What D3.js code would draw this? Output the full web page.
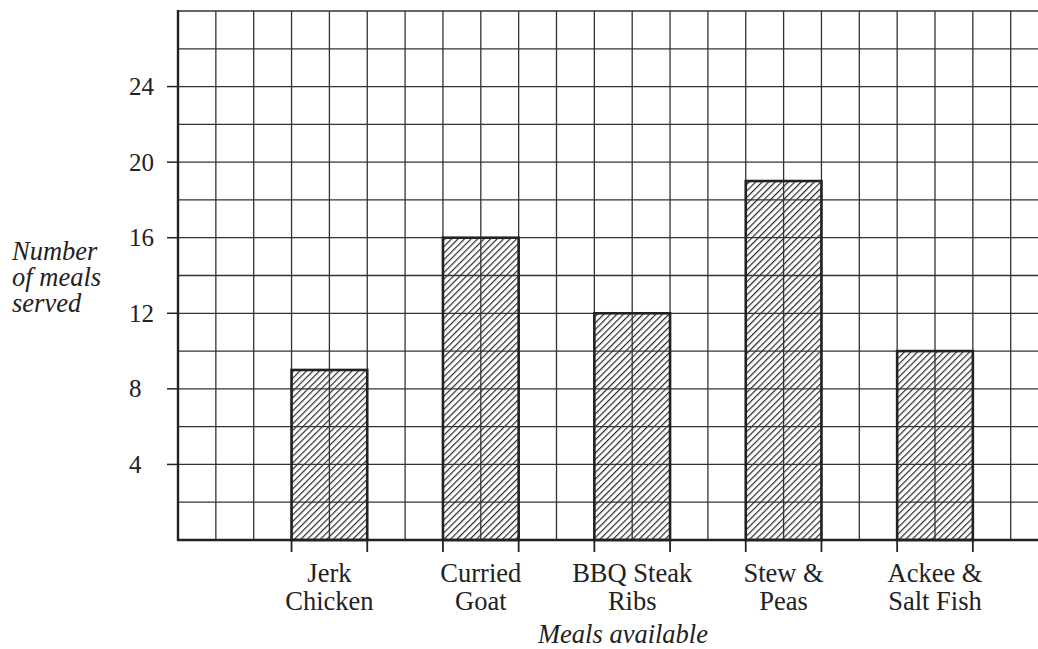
<!DOCTYPE html>
<html>
<head>
<meta charset="utf-8">
<script src="https://cdn.jsdelivr.net/npm/d3@7"></script>
<style>
  body { margin: 0; background: #fff; }
  svg { display: block; }
</style>
</head>
<body>
<script>

var width  = 1038;
var height = 649;

// data
var meals    = ['Jerk Chicken', 'Curried Goat', 'BBQ Steak Ribs', 'Stew & Peas', 'Ackee & Salt Fish'];
var mealRows = [['Jerk', 'Chicken'], ['Curried', 'Goat'], ['BBQ Steak', 'Ribs'], ['Stew &', 'Peas'], ['Ackee &', 'Salt Fish']];
var served   = [9, 16, 12, 19, 10];
var yTicks   = [4, 8, 12, 16, 20, 24];

var plotLeft = 178, plotTop = 11, plotBottom = 540;
var cell = 37.85;   // one grid square
var cols = 23;
var serif = '"Liberation Serif", "Times New Roman", serif';

var svg = d3.select('body')
            .append('svg')
            .attr('width', width)
            .attr('height', height);

var y = d3.scaleLinear()
          .domain([0, 28])
          .range([plotBottom, plotTop]);

var gx = d3.scaleLinear()
           .domain([0, cols])
           .range([plotLeft, plotLeft + cols * cell]);

var x = d3.scaleBand()
          .domain(meals)
          .range([gx(1), gx(23)])
          .paddingInner(0.5)
          .paddingOuter(0.5);

// hatch
var defs = svg.append('defs');
var pat = defs.append('pattern')
              .attr('id', 'hatch')
              .attr('patternUnits', 'userSpaceOnUse')
              .attr('width', 4.6)
              .attr('height', 4.6)
              .attr('patternTransform', 'rotate(45)');
pat.append('line')
   .attr('x1', 0).attr('y1', 0)
   .attr('x2', 0).attr('y2', 4.6)
   .attr('stroke', '#2a2a2a')
   .attr('stroke-width', 2.4);

// bars first so the grid shows through
svg.selectAll('rect.bar')
   .data(served)
   .enter()
   .append('rect')
   .attr('class', 'bar')
   .attr('x', function(d, i){ return x(meals[i]); })
   .attr('y', function(d){ return y(d); })
   .attr('width', x.bandwidth())
   .attr('height', function(d){ return y(0) - y(d); })
   .attr('fill', 'url(#hatch)');

// grid
svg.selectAll('line.h')
   .data(d3.range(2, 29, 2))
   .enter()
   .append('line')
   .attr('x1', plotLeft).attr('x2', width)
   .attr('y1', function(d){ return y(d); })
   .attr('y2', function(d){ return y(d); })
   .attr('stroke', '#333')
   .attr('stroke-width', 1.3);

svg.selectAll('line.v')
   .data(d3.range(1, cols + 1))
   .enter()
   .append('line')
   .attr('x1', function(d){ return gx(d); })
   .attr('x2', function(d){ return gx(d); })
   .attr('y1', plotTop).attr('y2', plotBottom)
   .attr('stroke', '#333')
   .attr('stroke-width', 1.3);

// bar outlines
svg.selectAll('rect.outline')
   .data(served)
   .enter()
   .append('rect')
   .attr('x', function(d, i){ return x(meals[i]); })
   .attr('y', function(d){ return y(d); })
   .attr('width', x.bandwidth())
   .attr('height', function(d){ return y(0) - y(d); })
   .attr('fill', 'none')
   .attr('stroke', '#222')
   .attr('stroke-width', 2.6);

// axes
svg.append('line')
   .attr('x1', plotLeft).attr('x2', plotLeft)
   .attr('y1', plotTop - 1).attr('y2', plotBottom + 1)
   .attr('stroke', '#222').attr('stroke-width', 2.4);
svg.append('line')
   .attr('x1', plotLeft - 1).attr('x2', width)
   .attr('y1', plotBottom).attr('y2', plotBottom)
   .attr('stroke', '#222').attr('stroke-width', 2.4);

// y ticks + labels
svg.selectAll('line.yt')
   .data(yTicks)
   .enter()
   .append('line')
   .attr('x1', plotLeft - 11).attr('x2', plotLeft)
   .attr('y1', function(d){ return y(d); })
   .attr('y2', function(d){ return y(d); })
   .attr('stroke', '#222').attr('stroke-width', 1.5);

svg.selectAll('text.yl')
   .data(yTicks)
   .enter()
   .append('text')
   .text(function(d){ return d; })
   .attr('x', 129)
   .attr('y', function(d){ return y(d) + 8.5; })
   .attr('font-family', serif)
   .attr('font-size', '25px')
   .attr('fill', '#222');

// x ticks at bar edges
var edges = [];
meals.forEach(function(m){ edges.push(x(m), x(m) + x.bandwidth()); });
svg.selectAll('line.xt')
   .data(edges)
   .enter()
   .append('line')
   .attr('x1', function(d){ return d; })
   .attr('x2', function(d){ return d; })
   .attr('y1', plotBottom).attr('y2', plotBottom + 12)
   .attr('stroke', '#222').attr('stroke-width', 1.8);

// category labels
var cat = svg.selectAll('text.xl')
             .data(mealRows)
             .enter()
             .append('text')
             .attr('text-anchor', 'middle')
             .attr('font-family', serif)
             .attr('font-size', '26.5px')
             .attr('fill', '#222');
cat.each(function(rows, i){
  var t = d3.select(this);
  rows.forEach(function(r, j){
    t.append('tspan')
     .attr('x', x(meals[i]) + x.bandwidth() / 2)
     .attr('y', 582 + j * 28)
     .text(r);
  });
});

// axis titles
svg.append('text')
   .text('Meals available')
   .attr('x', 623).attr('y', 643)
   .attr('text-anchor', 'middle')
   .attr('font-family', serif)
   .attr('font-style', 'italic')
   .attr('font-size', '26.5px')
   .attr('fill', '#222');

var yTitle = svg.append('text')
   .attr('font-family', serif)
   .attr('font-style', 'italic')
   .attr('font-size', '26.5px')
   .attr('fill', '#222');
['Number', 'of meals', 'served'].forEach(function(s, j){
  yTitle.append('tspan')
        .attr('x', 12)
        .attr('y', 260 + j * 26)
        .text(s);
});

</script>
</body>
</html>
